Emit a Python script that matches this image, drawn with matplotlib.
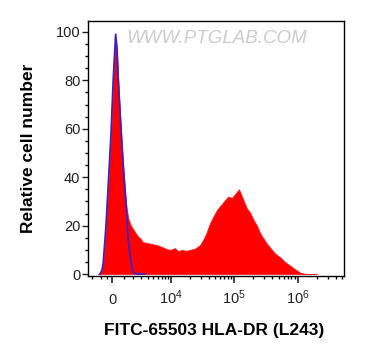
import numpy as np
import matplotlib
matplotlib.use("Agg")
import matplotlib.pyplot as plt
from matplotlib.ticker import FixedLocator, NullFormatter

plt.rcParams['font.family'] = ['Liberation Sans', 'DejaVu Sans']
plt.rcParams['mathtext.fontset'] = 'custom'
plt.rcParams['mathtext.rm'] = 'Liberation Sans'
plt.rcParams['mathtext.it'] = 'Liberation Sans:italic'
plt.rcParams['mathtext.bf'] = 'Liberation Sans:bold'

# ---- data (FITC intensity vs relative cell number) ----
sample_x = [-1340, -1140, -950, -830, -760, -580, -370, -130, 70, 180, 283, 310,
            400, 490, 605, 733, 854, 976, 1140, 1307, 1470, 1650, 1830, 2010,
            2210, 2590, 2840, 3270, 3900, 4430, 5000, 5860, 6590, 7390, 8600,
            9620, 11600, 12950, 15000, 17380, 20100, 24100, 29000, 32300, 36000,
            41650, 46460, 53730, 59900, 69260, 80090, 92580, 103200, 111000,
            119300, 128300, 138000, 159500, 177900, 205600, 229200, 255500,
            285000, 329500, 367400, 440400, 528000, 633000, 759000, 909800,
            1090900, 1307700, 2000000]
sample_y = [0, 0.5, 2, 5, 8, 20, 37, 57, 80, 91, 97, 96.5,
            92, 83, 72, 62, 53, 45, 35, 27, 23, 21, 19.5, 18.5,
            17.4, 15.5, 14.9, 13.2, 12.8, 12.6, 12.3, 12, 11.5, 11, 10.3,
            10, 10.7, 9.5, 10, 9.6, 10, 10.5, 12, 14, 16.5,
            21, 23.5, 26.5, 28, 30, 32, 31.5, 33, 34,
            35, 33, 31, 27, 25.5, 22, 20, 17,
            15, 12.5, 11, 8.5, 7, 5, 3.5, 2,
            0.6, 0.1, 0]

isotype_x = [-1140, -950, -830, -580, -370, -130, 70, 283, 400, 490, 733, 976,
             1307, 1470, 1650, 1830, 2010, 2210, 2590, 3500]
isotype_y = [0, 1.5, 4.5, 19.5, 37, 57.5, 80.5, 99, 93, 82, 62, 44,
             25, 14, 8, 3.5, 1, 0.3, 0, 0]

x_major = [0, 1e4, 1e5, 1e6]
x_major_labels = ['0', '$10^4$', '$10^5$', '$10^6$']
x_minor = ([-2000, -1000, -500] + [k * 1000 for k in range(1, 10)] +
           [k * 1e4 for k in range(2, 10)] + [k * 1e5 for k in range(2, 10)] +
           [k * 1e6 for k in range(2, 6)])
y_major = [0, 20, 40, 60, 80, 100]
y_minor = list(range(5, 100, 5))

C = 2430.0


def fwd(x):
    return np.arcsinh(np.asarray(x, dtype=float) / C) / np.log(10)


def inv(y):
    return C * np.sinh(np.asarray(y, dtype=float) * np.log(10))


fig = plt.figure(figsize=(3.65, 3.60), dpi=100)
ax = fig.add_axes([88 / 365, 84 / 360, 256 / 365, 255 / 360])
ax.set_xscale('function', functions=(fwd, inv))

ax.fill_between(sample_x, sample_y, 0, color='#ff0000', lw=0.6, edgecolor='#ff2020')
ax.plot(isotype_x, isotype_y, color='#4020c0', lw=1.3)

ax.set_xlim(-2450, 5.37e6)
ax.set_ylim(-0.8, 104.5)

ax.xaxis.set_major_locator(FixedLocator(x_major))
ax.xaxis.set_minor_locator(FixedLocator(x_minor))
ax.xaxis.set_minor_formatter(NullFormatter())
ax.set_xticks(x_major)
ax.set_xticklabels(x_major_labels)
ax.yaxis.set_major_locator(FixedLocator(y_major))
ax.yaxis.set_minor_locator(FixedLocator(y_minor))
ax.yaxis.set_minor_formatter(NullFormatter())

ax.tick_params(axis='x', which='major', length=5, width=1.2, direction='out',
               labelsize=10.5, pad=15.5, colors='#222222')
ax.tick_params(axis='x', which='minor', length=2.5, width=1.0, direction='out')
ax.tick_params(axis='y', which='major', length=4.5, width=1.0, direction='out',
               labelsize=10.5, pad=1, colors='#222222')
ax.tick_params(axis='y', which='minor', length=2.5, width=1.0, direction='out')
for lab in ax.get_xticklabels():
    lab.set_verticalalignment('baseline')

for sp in ax.spines.values():
    sp.set_linewidth(1.0)
    sp.set_color('black')

ax.set_xlabel('FITC-65503 HLA-DR (L243)', fontsize=12.5, fontweight='bold', va='center')
ax.xaxis.set_label_coords(0.492, -0.215)
ax.set_ylabel('Relative cell number', fontsize=12.5, fontweight='bold', va='center')
ax.yaxis.set_label_coords(-0.234, 0.502)

ax.text(0.504, 0.933, 'WWW.PTGLAB.COM', transform=ax.transAxes, ha='center',
        va='center', fontsize=13.5, style='italic', color='#cccccc')

fig.savefig('out.png', dpi=100)
